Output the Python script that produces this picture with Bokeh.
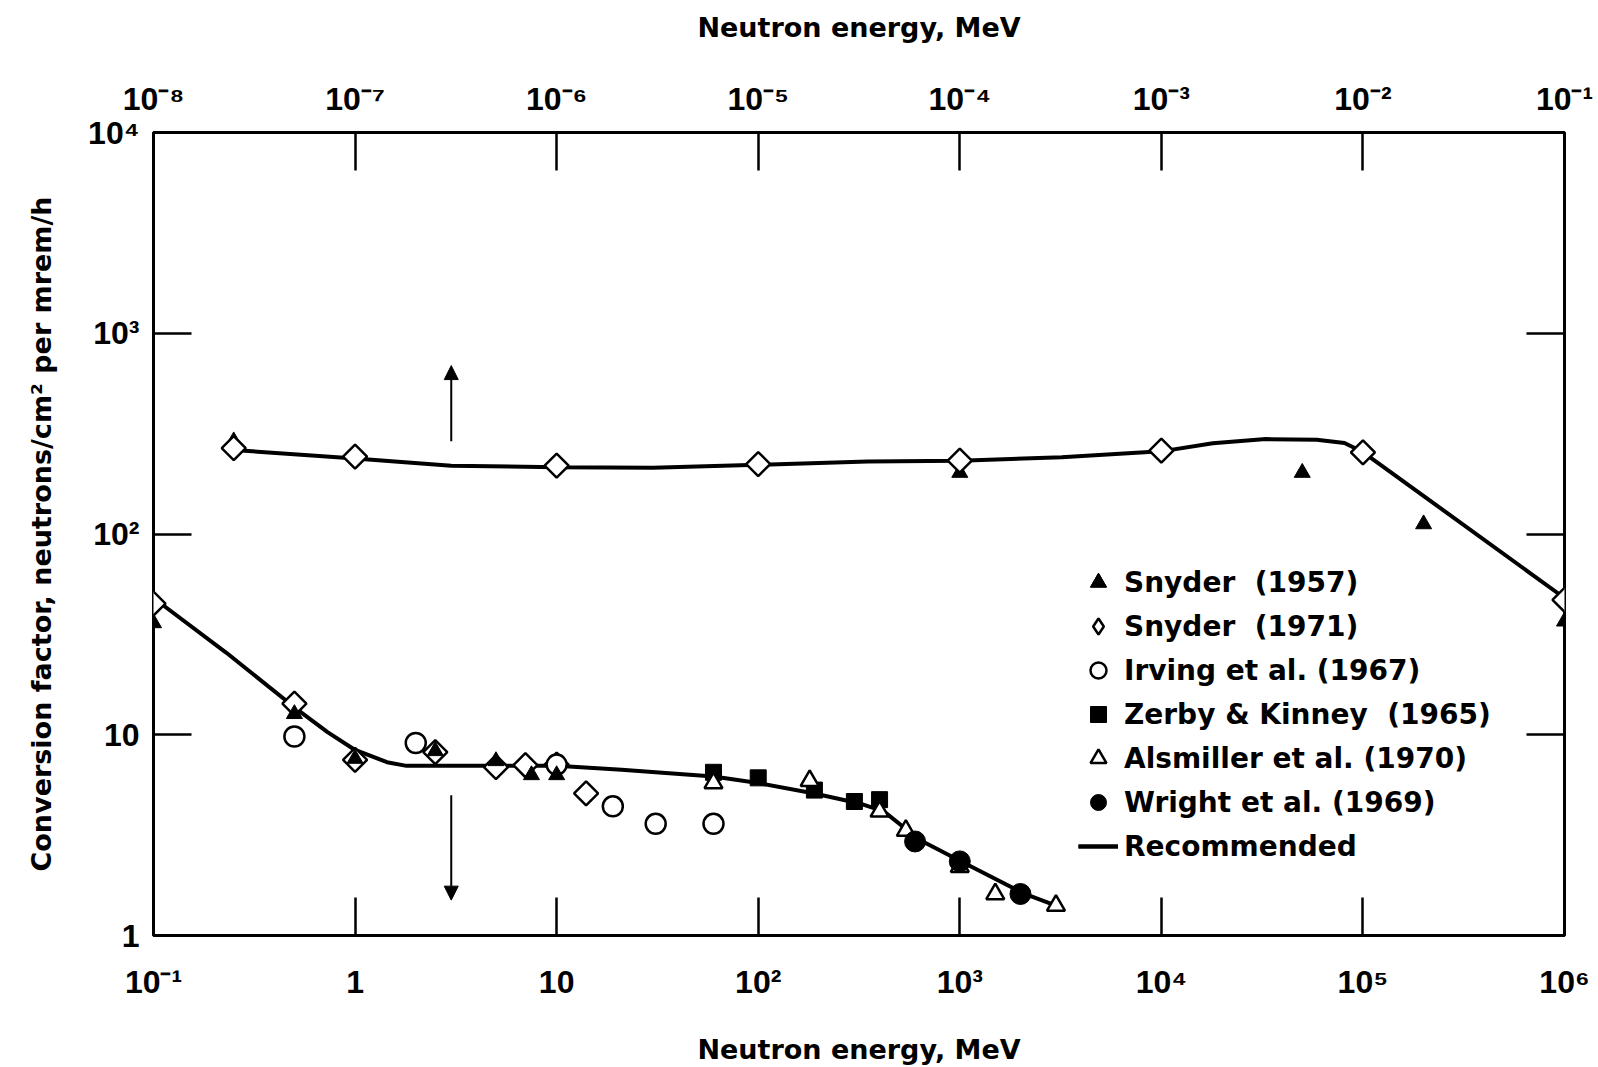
import numpy as np
from bokeh.plotting import figure
from bokeh.models import (LogAxis, Range1d, LogScale, FixedTicker, CustomJSTickFormatter,
                          Legend, LegendItem, Arrow, NormalHead)
from bokeh.embed import file_html
from bokeh.resources import INLINE

# ---- axis ticks and labels ----
bottom_ticks = [1e-1, 1, 1e1, 1e2, 1e3, 1e4, 1e5, 1e6]
bottom_tick_labels = ["10⁻¹", "1", "10", "10²", "10³", "10⁴", "10⁵", "10⁶"]
top_ticks = [1e-8, 1e-7, 1e-6, 1e-5, 1e-4, 1e-3, 1e-2, 1e-1]
top_tick_labels = ["10⁻⁸", "10⁻⁷", "10⁻⁶", "10⁻⁵", "10⁻⁴", "10⁻³", "10⁻²", "10⁻¹"]
y_ticks = [1, 10, 100, 1000, 10000]
y_tick_labels = ["1", "10", "10²", "10³", "10⁴"]

# ---- high-energy data (bottom energy scale, MeV) ----
snyder57_lo_e = [0.1, 0.5, 1.0, 2.5, 5.0, 7.5, 10.0]
snyder57_lo_v = [36, 12.7, 7.6, 8.3, 7.4, 6.3, 6.3]
snyder71_lo_e = [0.1, 0.5, 1.0, 2.5, 5.0, 7.0, 10.0, 14.0]
snyder71_lo_v = [45, 14.3, 7.5, 8.2, 6.9, 7.05, 7.1, 5.1]
irving_e = [0.5, 2.0, 10.0, 19.0, 31.0, 60.0]
irving_v = [9.8, 9.1, 7.1, 4.4, 3.6, 3.6]
zerby_e = [60, 100, 190, 300, 400]
zerby_v = [6.5, 6.1, 5.3, 4.65, 4.75]
alsmiller_e = [60, 180, 400, 540, 1000, 1500, 3000]
alsmiller_v = [5.75, 5.9, 4.15, 3.33, 2.2, 1.61, 1.41]
wright_e = [600, 1000, 2000]
wright_v = [2.94, 2.34, 1.61]
recommended_lo_e = [0.1, 0.23, 0.5, 0.73, 1.0, 1.44, 1.8, 3.9, 10, 21, 60, 100, 190, 315, 420, 630, 1040, 2100, 3000]
recommended_lo_v = [48, 25.6, 13.7, 10.3, 8.4, 7.3, 7.0, 7.0, 7.0, 6.7, 6.2, 5.75, 5.1, 4.56, 4.15, 3.0, 2.31, 1.61, 1.41]

# ---- low-energy data (top energy scale, MeV) ----
snyder57_hi_e = [2.5e-8, 1e-4, 5e-3, 2e-2, 1e-1]
snyder57_hi_v = [290, 202, 202, 112, 36.7]
snyder71_hi_e = [2.5e-8, 1e-7, 1e-6, 1e-5, 1e-4, 1e-3, 1e-2, 1e-1]
snyder71_hi_v = [268, 243, 219, 223, 232, 260, 255, 47]
recommended_hi_e = [2.5e-8, 1e-7, 3e-7, 1e-6, 3e-6, 1e-5, 3.5e-5, 1e-4, 3.2e-4, 1e-3,
                    1.8e-3, 3.3e-3, 5.9e-3, 8.1e-3, 1e-2, 1e-1]
recommended_hi_v = [262, 238, 219, 215, 214, 221, 230, 232, 241, 258,
                    283, 297, 295, 284, 256, 48]

# arrows pointing each curve to its energy scale
arrow_energy = 3.0
up_arrow_v = (290, 690)
down_arrow_v = (5.0, 1.5)

TICK_FONT = "Liberation Sans"
TEXT_FONT = "DejaVu Sans"

p = figure(width=1598, height=1067, x_axis_type="log", y_axis_type="log",
           x_range=(0.1, 1e6), y_range=(1, 1e4),
           min_border_left=153, min_border_right=34, min_border_top=132, min_border_bottom=124,
           output_backend="svg", toolbar_location=None)
p.extra_x_ranges = {"top": Range1d(1e-8, 1e-1)}
p.extra_x_scales = {"top": LogScale()}
p.grid.visible = False
p.outline_line_color = "black"
p.outline_line_width = 3
p.background_fill_color = "white"
p.border_fill_color = "white"


def label_formatter(tick_vals, tick_text):
    return CustomJSTickFormatter(args=dict(tick_vals=tick_vals, tick_text=tick_text), code="""
        for (let i = 0; i < tick_vals.length; i++) {
            if (Math.abs(Math.log10(tick_vals[i]) - Math.log10(tick)) < 1e-6) return tick_text[i];
        }
        return "";
    """)


def style_axis(ax, tick_vals, tick_text, standoff):
    ax.ticker = FixedTicker(ticks=tick_vals)
    ax.formatter = label_formatter(tick_vals, tick_text)
    ax.axis_line_color = None
    ax.major_tick_in = 38
    ax.major_tick_out = 0
    ax.major_tick_line_width = 2.5
    ax.major_tick_line_color = "black"
    ax.minor_tick_line_color = None
    ax.major_label_text_font = TICK_FONT
    ax.major_label_text_font_style = "bold"
    ax.major_label_text_font_size = "32px"
    ax.major_label_text_color = "black"
    ax.major_label_standoff = standoff
    ax.axis_label_text_font = TEXT_FONT
    ax.axis_label_text_font_style = "bold"
    ax.axis_label_text_font_size = "27px"
    ax.axis_label_text_color = "black"


xb = p.xaxis[0]
style_axis(xb, bottom_ticks, bottom_tick_labels, 28)
xb.axis_label = "Neutron energy, MeV"
xb.axis_label_standoff = 31

yl = p.yaxis[0]
style_axis(yl, y_ticks, y_tick_labels, 14)
yl.axis_label = "Conversion factor, neutrons/cm² per mrem/h"
yl.axis_label_standoff = 28

xt = LogAxis(x_range_name="top")
style_axis(xt, top_ticks, top_tick_labels, 16)
xt.axis_label = "Neutron energy, MeV"
xt.axis_label_standoff = 35
p.add_layout(xt, "above")

yr = LogAxis()
style_axis(yr, y_ticks, ["" for _ in y_tick_labels], 0)
yr.major_label_text_font_size = "0px"
p.add_layout(yr, "right")

# recommended curves
c_lo = p.line(recommended_lo_e, recommended_lo_v, line_color="black", line_width=4)
c_hi = p.line(recommended_hi_e, recommended_hi_v, line_color="black", line_width=4, x_range_name="top")

# upper (low-energy) points
t_hi = p.scatter(snyder57_hi_e, snyder57_hi_v, marker="triangle", size=16,
                 fill_color="black", line_color="black", x_range_name="top")
d_hi = p.scatter(snyder71_hi_e, snyder71_hi_v, marker="square", angle=np.pi / 4, size=17,
                 fill_color="white", line_color="black", line_width=2.5, x_range_name="top")

# lower (high-energy) points
d_lo = p.scatter(snyder71_lo_e, snyder71_lo_v, marker="square", angle=np.pi / 4, size=17,
                 fill_color="white", line_color="black", line_width=2.5)
irv = p.scatter(irving_e, irving_v, marker="circle", size=20,
                fill_color="white", line_color="black", line_width=2.5)
t_lo = p.scatter(snyder57_lo_e, snyder57_lo_v, marker="triangle", size=16,
                 fill_color="black", line_color="black")
zk = p.scatter(zerby_e, zerby_v, marker="square", size=16, fill_color="black", line_color="black")
als = p.scatter(alsmiller_e, alsmiller_v, marker="triangle", size=18,
                fill_color="white", line_color="black", line_width=2.5)
wr = p.scatter(wright_e, wright_v, marker="circle", size=21, fill_color="black", line_color="black")

# legend swatch for the open diamonds (legend glyphs ignore marker rotation),
# kept hidden in the plot itself
d_key = p.scatter(snyder71_lo_e, snyder71_lo_v, marker="diamond", size=17,
                  fill_color="white", line_color="black", line_width=2.5, visible=False)

# arrows
head = dict(size=14, fill_color="black", line_color="black")
p.add_layout(Arrow(end=NormalHead(**head), x_start=arrow_energy, y_start=up_arrow_v[0],
                   x_end=arrow_energy, y_end=up_arrow_v[1], line_width=2))
p.add_layout(Arrow(end=NormalHead(**head), x_start=arrow_energy, y_start=down_arrow_v[0],
                   x_end=arrow_energy, y_end=down_arrow_v[1], line_width=2))

legend = Legend(items=[
    LegendItem(label="Snyder  (1957)", renderers=[t_lo, t_hi]),
    LegendItem(label="Snyder  (1971)", renderers=[d_key]),
    LegendItem(label="Irving et al. (1967)", renderers=[irv]),
    LegendItem(label="Zerby & Kinney  (1965)", renderers=[zk]),
    LegendItem(label="Alsmiller et al. (1970)", renderers=[als]),
    LegendItem(label="Wright et al. (1969)", renderers=[wr]),
    LegendItem(label="Recommended", renderers=[c_lo, c_hi]),
], location=(925, 69), orientation="vertical", glyph_width=40, glyph_height=40,
    label_height=40, spacing=4, padding=0, margin=0, label_standoff=6,
    label_text_font=TEXT_FONT, label_text_font_style="bold", label_text_font_size="28px",
    label_text_color="black", border_line_color=None, background_fill_alpha=0)
p.add_layout(legend)

open("out.html", "w").write(file_html(p, INLINE))
